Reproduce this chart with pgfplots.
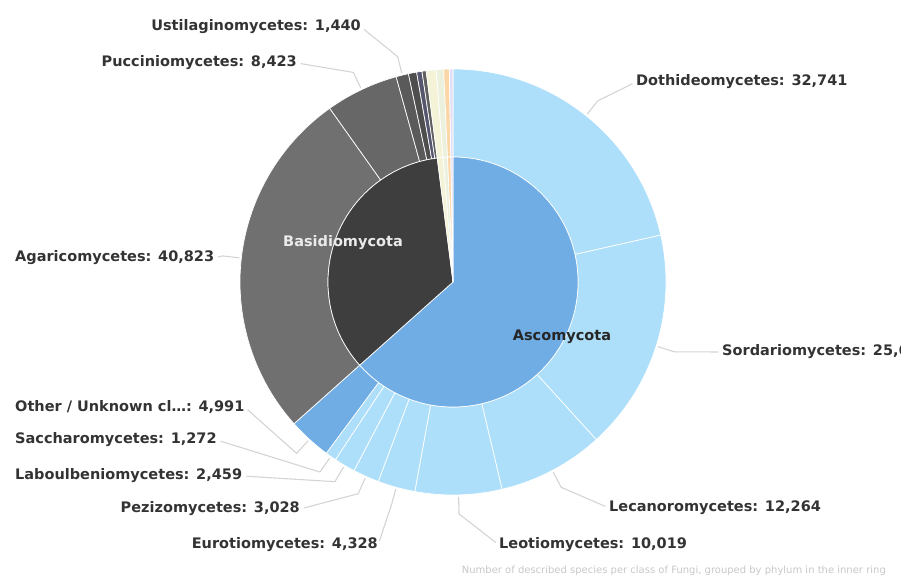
\documentclass[border=0pt]{standalone}
\usepackage{pgfplots}
\pgfplotsset{compat=1.18}
\usepackage{pgfplotstable}
\usepackage{fontspec}
\setmainfont{DejaVu Sans}

\definecolor{ascoIn}{HTML}{6FADE4}
\definecolor{ascoOut}{HTML}{ADDFFA}
\definecolor{basiIn}{HTML}{3E3E3E}
\definecolor{agar}{HTML}{707070}
\definecolor{pucc}{HTML}{676767}
\definecolor{ustil}{HTML}{5A5A5A}
\definecolor{basiA}{HTML}{4E4E4E}
\definecolor{basiB}{HTML}{56566F}
\definecolor{basiC}{HTML}{606060}
\definecolor{creamA}{HTML}{F4F3D8}
\definecolor{creamB}{HTML}{ECF1DD}
\definecolor{apricot}{HTML}{FBD6A6}
\definecolor{lavender}{HTML}{E2DFF4}
\definecolor{leader}{HTML}{D4D4D4}
\definecolor{labeltext}{HTML}{333333}

% Species per class (outer ring), clockwise from the top
\pgfplotstableread[col sep=comma]{
value,color
32741,ascoOut
25617,ascoOut
12264,ascoOut
10019,ascoOut
4328,ascoOut
3028,ascoOut
2459,ascoOut
1272,ascoOut
4991,ascoIn
40823,agar
8423,pucc
1440,ustil
950,basiA
620,basiB
480,basiC
1150,creamA
850,creamB
650,apricot
420,lavender
}\classdata

% Species per phylum (inner ring)
\pgfplotstableread[col sep=comma]{
value,color
96719,ascoIn
52736,basiIn
1150,creamA
850,creamB
650,apricot
420,lavender
}\phylumdata

\def\cx{453}
\def\cy{296}

% #1 table, #2 inner radius, #3 outer radius, #4 prefix for stored mid angles
\newcommand\drawring[4]{%
  \pgfplotstablegetrowsof{#1}%
  \edef\nrows{\the\numexpr\pgfplotsretval-1\relax}%
  \gdef\ringsum{0}%
  \foreach \i in {0,...,\nrows}{%
    \pgfplotstablegetelem{\i}{value}\of{#1}%
    \xdef\ringsum{\fpeval{\ringsum+\pgfplotsretval}}%
  }%
  \gdef\ringpos{90}%
  \foreach \i in {0,...,\nrows}{%
    \pgfplotstablegetelem{\i}{value}\of{#1}%
    \edef\sweep{\fpeval{360*\pgfplotsretval/\ringsum}}%
    \pgfplotstablegetelem{\i}{color}\of{#1}%
    \edef\slicecolor{\pgfplotsretval}%
    \edef\aS{\ringpos}%
    \edef\aE{\fpeval{\ringpos-\sweep}}%
    \edef\oxS{\fpeval{\cx+#3*cosd(\aS)}}\edef\oyS{\fpeval{\cy+#3*sind(\aS)}}%
    \edef\ixE{\fpeval{\cx+#2*cosd(\aE)}}\edef\iyE{\fpeval{\cy+#2*sind(\aE)}}%
    \filldraw[fill=\slicecolor, draw=white, line width=0.7pt, line join=round]
      (axis cs:\oxS,\oyS) arc[start angle=\aS, end angle=\aE, radius=#3pt]
      -- (axis cs:\ixE,\iyE) arc[start angle=\aE, end angle=\aS, radius=#2pt] -- cycle;
    \expandafter\xdef\csname #4mid\i\endcsname{\fpeval{(\aS+\aE)/2}}%
    \xdef\ringpos{\aE}%
  }%
}

\tikzset{
  labelstyle/.style={font=\fontsize{14.5}{17}\selectfont\bfseries, text=labeltext, inner sep=0pt},
  leaderline/.style={draw=leader, line width=1.1pt, shorten >=4pt},
}

% #1 class row, #2 anchor, #3 side the leader meets, #4 x, #5 y, #6 text
\newcommand\classlabel[6]{%
  \edef\midang{\csname outermid#1\endcsname}%
  \edef\sx{\fpeval{\cx+215*cosd(\midang)}}\edef\sy{\fpeval{\cy+215*sind(\midang)}}%
  \edef\ex{\fpeval{\cx+232*cosd(\midang)}}\edef\ey{\fpeval{\cy+232*sind(\midang)}}%
  \node[anchor=#2, labelstyle] (lbl) at (axis cs:#4,#5) {#6};
  \draw[leaderline] (axis cs:\sx,\sy) -- (axis cs:\ex,\ey) -- (lbl.#3);
}

\begin{document}
\begin{tikzpicture}
\useasboundingbox (0,0) rectangle (901pt,578pt);
\clip (0,0) rectangle (901pt,578pt);
\begin{axis}[x=1pt, y=1pt, xmin=0, xmax=901, ymin=0, ymax=578,
  hide axis, scale only axis, clip=false]
\pgfplotsextra{%
  \drawring{\classdata}{125}{213}{outer}%
  \drawring{\phylumdata}{0}{125}{inner}%
  \classlabel{0}{west}{west}{636}{496}{Dothideomycetes: 32,741}%
  \classlabel{1}{west}{west}{722}{226}{Sordariomycetes: 25,617}%
  \classlabel{2}{west}{west}{609}{70}{Lecanoromycetes: 12,264}%
  \classlabel{3}{west}{west}{499}{33}{Leotiomycetes: 10,019}%
  \classlabel{4}{east}{east}{378}{33}{Eurotiomycetes: 4,328}%
  \classlabel{5}{east}{east}{300}{69}{Pezizomycetes: 3,028}%
  \classlabel{6}{west}{east}{15}{102}{Laboulbeniomycetes: 2,459}%
  \classlabel{7}{west}{east}{15}{138}{Saccharomycetes: 1,272}%
  \classlabel{8}{west}{east}{15}{171}{Other / Unknown cl…: 4,991}%
  \classlabel{9}{west}{east}{15}{320}{Agaricomycetes: 40,823}%
  \classlabel{10}{east}{east}{297}{515}{Pucciniomycetes: 8,423}%
  \classlabel{11}{east}{east}{361}{551}{Ustilaginomycetes: 1,440}%
  \node[labelstyle, text=white!92!black] at (axis cs:343,335) {Basidiomycota};
  \node[labelstyle, text=black!85] at (axis cs:562,241) {Ascomycota};
  \node[anchor=east, inner sep=0pt, font=\fontsize{10}{12}\selectfont, text=black!22]
    at (axis cs:886,7) {Number of described species per class of Fungi, grouped by phylum in the inner ring};
}
\end{axis}
\end{tikzpicture}
\end{document}
